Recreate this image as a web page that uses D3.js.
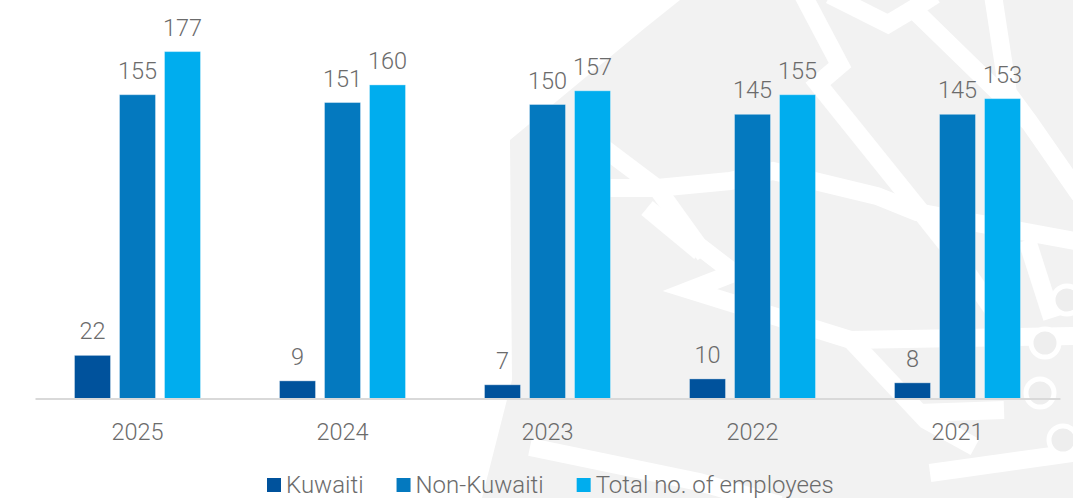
<!DOCTYPE html>
<html>
<head>
<meta charset="utf-8">
<script src="https://cdn.jsdelivr.net/npm/d3@7"></script>
<style>
  html, body { margin: 0; padding: 0; background: #ffffff; }
  svg { display: block; font-family: Roboto, "Open Sans", sans-serif; font-weight: 300; }
</style>
</head>
<body>
<svg id="chart" width="1073" height="498"></svg>
<script>
// Employee headcount by year
const years = ["2025", "2024", "2023", "2022", "2021"];
const seriesNames = ["Kuwaiti", "Non-Kuwaiti", "Total no. of employees"];
const kuwaiti = [22, 9, 7, 10, 8];
const nonKuwaiti = [155, 151, 150, 145, 145];
const totalEmployees = [177, 160, 157, 155, 153];
const seriesColors = ["#00529c", "#0479bf", "#00adee"];

const seriesValues = [kuwaiti, nonKuwaiti, totalEmployees];
const rows = years.map((year, i) => ({
  year,
  values: seriesNames.map((name, s) => ({ name, value: seriesValues[s][i] }))
}));

const svg = d3.select("#chart");
const textColor = "#6b6b6b";

// Decorative geometric backdrop
function drawBackdrop(g) {
  g.append("path")
    .attr("d", "M680,0 L1073,0 L1073,498 L482,498 L512,380 L510,140 L645,28 Z")
    .attr("fill", "#f2f2f2");
  const lines = [
    [[803, -5], [840, 65], [818, 84], [917, 207], [955, 255], [1000, 320]],
    [[830, -5], [888, 24], [913, 9], [935, -5]],
    [[913, 9], [1030, 123], [1080, 195]],
    [[993, -5], [1008, 93], [1030, 123]],
    [[600, 188], [657, 188], [730, 181], [773, 171], [877, 196], [917, 212], [1080, 242]],
    [[597, 143], [657, 188], [705, 255]],
    [[647, 208], [700, 252]],
    [[691, 240], [734, 273], [690, 290], [851, 340], [1080, 336]],
    [[851, 340], [926, 420], [975, 447]],
    [[918, 413], [1004, 410]],
    [[930, 473], [1080, 452]],
    [[530, 447], [699, 482], [780, 505]],
    [[1027, 240], [1052, 318]]
  ];
  g.selectAll("path.wm-line")
    .data(lines)
    .join("path")
    .attr("class", "wm-line")
    .attr("d", d3.line())
    .attr("fill", "none")
    .attr("stroke", "#ffffff")
    .attr("stroke-width", 18)
    .attr("stroke-linejoin", "miter");
  const dots = [[1067, 300], [1045, 343], [1040, 393], [1063, 440]];
  g.selectAll("circle.wm-dot")
    .data(dots)
    .join("circle")
    .attr("class", "wm-dot")
    .attr("cx", d => d[0]).attr("cy", d => d[1])
    .attr("r", 14)
    .attr("fill", "#eeeeee")
    .attr("stroke", "#ffffff")
    .attr("stroke-width", 5);
}
drawBackdrop(svg.append("g"));

// Scales
const baseY = 398.5;
const x0 = d3.scaleBand().domain(years).range([35, 1060]).padding(0);
const groupWidth = 126;
const x1 = d3.scaleBand()
  .domain(seriesNames)
  .range([(x0.bandwidth() - groupWidth) / 2, (x0.bandwidth() + groupWidth) / 2])
  .paddingInner(0.2)
  .paddingOuter(0);
const y = d3.scaleLinear().domain([0, 200]).range([baseY, baseY - 392]);
const color = d3.scaleOrdinal().domain(seriesNames).range(seriesColors);

// Bars
const groups = svg.append("g").selectAll("g")
  .data(rows)
  .join("g")
  .attr("transform", d => `translate(${x0(d.year)},0)`);

groups.selectAll("rect")
  .data(d => d.values)
  .join("rect")
  .attr("x", d => x1(d.name))
  .attr("y", d => y(d.value))
  .attr("width", x1.bandwidth())
  .attr("height", d => baseY - y(d.value))
  .attr("fill", d => color(d.name))
  .attr("stroke", "rgba(255,255,255,0.35)")
  .attr("stroke-width", 1);

groups.selectAll("text")
  .data(d => d.values)
  .join("text")
  .attr("x", d => x1(d.name) + x1.bandwidth() / 2)
  .attr("y", d => y(d.value) - 16)
  .attr("text-anchor", "middle")
  .attr("font-size", 23.5)
  .attr("fill", textColor)
  .text(d => d.value);

// X axis
const xAxis = svg.append("g")
  .attr("transform", `translate(0,${baseY})`)
  .call(d3.axisBottom(x0).tickSize(0).tickPadding(0));
xAxis.select(".domain").attr("stroke", "#d9d9d9").attr("stroke-width", 2);
xAxis.selectAll(".tick text")
  .attr("dy", null)
  .attr("y", 41)
  .attr("font-family", "Roboto, sans-serif")
  .attr("font-weight", 300)
  .attr("font-size", 23.5)
  .attr("fill", textColor);

// Legend
const legend = svg.append("g").attr("transform", "translate(267,0)");
let lx = 0;
seriesNames.forEach((name, i) => {
  const item = legend.append("g").attr("transform", `translate(${lx},0)`);
  item.append("rect")
    .attr("x", 0).attr("y", 478)
    .attr("width", 14).attr("height", 14)
    .attr("fill", seriesColors[i]);
  const t = item.append("text")
    .attr("x", 19).attr("y", 493)
    .attr("font-size", 24)
    .attr("fill", textColor)
    .text(name);
  lx += 19 + t.node().getComputedTextLength() + 33;
});
</script>
</body>
</html>
